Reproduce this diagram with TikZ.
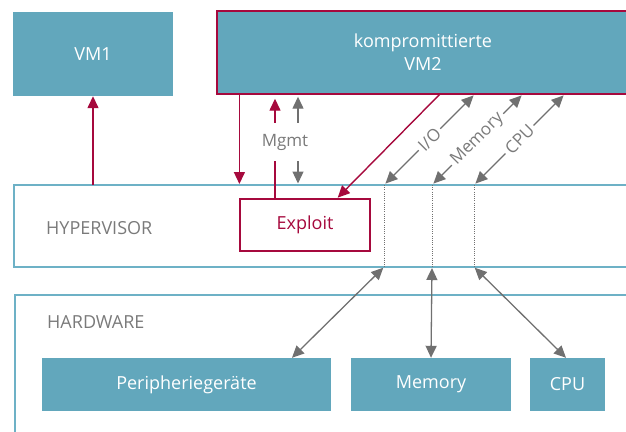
\documentclass[tikz,border=0pt]{standalone}
\usepackage{fontspec}
\setmainfont{Open Sans}
\usetikzlibrary{arrows.meta,calc}
\definecolor{tealfill}{HTML}{62A7BC}
\definecolor{tealline}{HTML}{6DB1C6}
\definecolor{crim}{HTML}{A6093D}
\definecolor{grayc}{HTML}{707070}
\definecolor{graytext}{HTML}{7A7A7A}
\tikzset{
  box/.style={fill=tealfill, text=white, inner sep=0pt, align=center, font=\fontsize{18}{23}\selectfont},
  layer/.style={draw=tealline, line width=1.1pt},
  layertext/.style={text=graytext, anchor=west, inner sep=0pt, font=\fontsize{18}{20}\selectfont},
  crimarrow/.style={draw=crim, line width=1.4pt, -{Triangle[length=12pt,width=11pt]}},
  grayarrow/.style={draw=grayc, line width=1.3pt, {Triangle[length=12pt,width=11pt]}-{Triangle[length=12pt,width=11pt]}},
  lbl/.style={text=graytext, fill=white, font=\fontsize{17}{20}\selectfont, inner sep=3pt},
  dots/.style={draw=grayc, line width=1pt, dash pattern=on 1pt off 1.2pt}
}
\begin{document}
\begin{tikzpicture}[x=1pt,y=-1pt]
\useasboundingbox (0,0) rectangle (626,431);
% layers
\draw[layer] (640,185) -- (14,185) -- (14,267) -- (640,267);
\node[layertext] (hyptext) at (46,228) {HYPERVISOR};
\draw[layer] (640,295) -- (15,295) -- (15,440);
\node[layertext] (hwtext) at (47,322) {HARDWARE};
% VMs
\node[box, minimum width=160pt, minimum height=84pt] (vm1) at (93,54) {VM1};
\node[box, draw=crim, line width=1.4pt, minimum width=412pt, minimum height=83pt] (vm2) at (423,52.5) {kompromittierte\\VM2};
% exploit
\node[draw=crim, line width=1.2pt, fill=white, text=crim, minimum width=130pt, minimum height=52pt, inner sep=0pt, font=\fontsize{18}{20}\selectfont] (exploit) at (305,225) {Exploit};
% hardware
\node[box, minimum width=289pt, minimum height=53pt] (peri) at (186.5,384.5) {Peripheriegeräte};
\node[box, minimum width=160pt, minimum height=53pt] (mem) at (431,384.5) {Memory};
\node[box, minimum width=75pt, minimum height=53pt] (cpu) at (567.5,384.5) {CPU};
% helper coordinates
\coordinate (hyptop) at (0,185);
\coordinate (hypbot) at (0,267);
\coordinate (xio) at (384,0);
\coordinate (xmem) at (432,0);
\coordinate (xcpu) at (474,0);
\coordinate (xm1) at (275,0);
\coordinate (xm2) at (298,0);
% VM1 arrow
\draw[crimarrow] (vm1.south |- hyptop) -- (vm1.south);
% crimson down arrow
\draw[crimarrow, shorten >=1pt] (exploit.west |- vm2.south) -- (exploit.west |- hyptop);
% crimson up arrow (exploit to VM2)
\draw[crimarrow, shorten >=4pt] (xm1 |- exploit.north) -- (xm1 |- vm2.south);
% gray Mgmt arrow
\draw[grayarrow, shorten >=2pt, shorten <=1.5pt] (xm2 |- hyptop) -- (xm2 |- vm2.south);
\node[text=graytext, fill=white, font=\fontsize{17}{20}\selectfont, minimum width=50pt, minimum height=38pt, inner sep=0pt] (mgmt) at (285,142) {Mgmt};
% crimson diagonal
\coordinate (dtop) at (440,94);
\draw[crimarrow, shorten >=1pt] (dtop) -- (exploit.north -| 337,0);
% gray diagonals
\draw[grayarrow, shorten <=2pt, shorten >=2pt] (xio |- hyptop) -- ($(xio |- hyptop)+(91,-91)$) node[lbl, midway, sloped] (lio) {I/O};
\draw[grayarrow, shorten <=2pt, shorten >=2pt] (xmem |- hyptop) -- ($(xmem |- hyptop)+(91,-91)$) node[lbl, midway, sloped] (lmem) {Memory};
\draw[grayarrow, shorten <=2pt, shorten >=2pt] (xcpu |- hyptop) -- ($(xcpu |- hyptop)+(91,-91)$) node[lbl, midway, sloped] (lcpu) {CPU};
% dotted lines
\draw[dots] (xio |- hyptop) -- (xio |- hypbot);
\draw[dots] (xmem |- hyptop) -- (xmem |- hypbot);
\draw[dots] (xcpu |- hyptop) -- (xcpu |- hypbot);
% bottom arrows
\draw[grayarrow, shorten <=1pt] (xio |- hypbot) -- (peri.north -| 292,0);
\draw[grayarrow, shorten <=1pt] (xmem |- hypbot) -- (mem.north);
\draw[grayarrow, shorten <=1pt] (xcpu |- hypbot) -- (cpu.north -| 566,0);
\end{tikzpicture}
\end{document}
